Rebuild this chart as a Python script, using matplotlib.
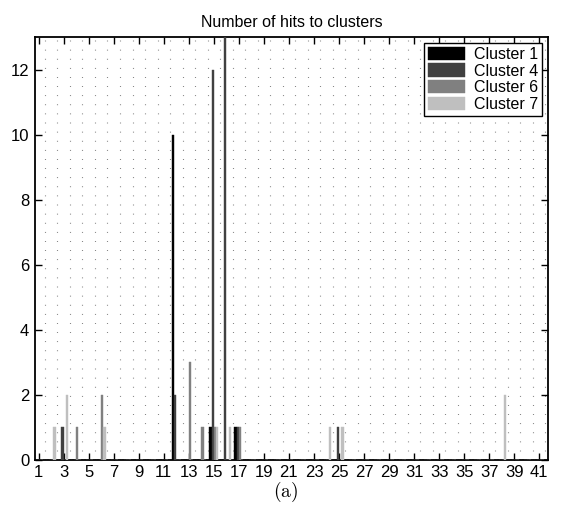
import numpy as np
import matplotlib.pyplot as plt

plt.rcParams['font.family'] = ['Liberation Sans', 'DejaVu Sans']
plt.rcParams['mathtext.fontset'] = 'cm'

# hits per position, one list per cluster (positions 1..41)
positions = list(range(1, 42))
cluster_names = ['Cluster 1', 'Cluster 4', 'Cluster 6', 'Cluster 7']
cluster1 = [0, 0, 0, 0, 0, 0, 0, 0, 0, 0, 0, 10, 0, 0, 1, 0, 1, 0, 0, 0,
            0, 0, 0, 0, 0, 0, 0, 0, 0, 0, 0, 0, 0, 0, 0, 0, 0, 0, 0, 0, 0]
cluster4 = [0, 0, 1, 0, 0, 0, 0, 0, 0, 0, 0, 2, 0, 0, 12, 14, 1, 0, 0, 0,
            0, 0, 0, 0, 1, 0, 0, 0, 0, 0, 0, 0, 0, 0, 0, 0, 0, 0, 0, 0, 0]
cluster6 = [0, 0, 0, 1, 0, 2, 0, 0, 0, 0, 0, 0, 3, 1, 1, 0, 1, 0, 0, 0,
            0, 0, 0, 0, 0, 0, 0, 0, 0, 0, 0, 0, 0, 0, 0, 0, 0, 0, 0, 0, 0]
cluster7 = [0, 1, 2, 0, 0, 1, 0, 0, 0, 0, 0, 0, 0, 0, 1, 1, 0, 0, 0, 0,
            0, 0, 0, 1, 1, 0, 0, 0, 0, 0, 0, 0, 0, 0, 0, 0, 0, 2, 0, 0, 0]
xtick_labels = [str(k) for k in range(1, 42, 2)]

greys = ['#000000', '#404040', '#808080', '#bfbfbf']

fig = plt.figure(figsize=(5.72, 5.22), dpi=100)
ax = fig.add_axes([0.061, 0.119, 0.897, 0.81])

x = np.array(positions)
w = 0.182
offsets = [-1.5 * w, -0.5 * w, 0.5 * w, 1.5 * w]
series = [cluster1, cluster4, cluster6, cluster7]
for vals, off, col, name in zip(series, offsets, greys, cluster_names):
    ax.bar(x + off, vals, width=w, color=col, edgecolor=col, linewidth=0.3,
           label=name, zorder=3)

# dotted vertical grid between the groups
for gx in np.arange(1.5, 41.6, 1.0):
    ax.axvline(gx, color='#666666', linestyle=(0, (0.7, 7.5)), linewidth=0.8,
               zorder=1)

ax.set_xlim(0.7, 41.7)
ax.set_ylim(0, 13)
ax.set_xticks(range(1, 42, 2))
ax.set_xticklabels(xtick_labels)
ax.set_yticks(range(0, 13, 2))
ax.tick_params(direction='in', length=5, width=1.0, labelsize=12,
               top=True, right=True, pad=4)
for s in ax.spines.values():
    s.set_linewidth(1.3)

ax.set_title('Number of hits to clusters', fontsize=11.5, pad=7)

leg = ax.legend(loc='upper right', fontsize=11.5, frameon=True, fancybox=False,
                edgecolor='black', framealpha=1, borderpad=0.25,
                handlelength=2.3, handleheight=0.9, handletextpad=0.6,
                labelspacing=0.1, borderaxespad=0.35)
leg.get_frame().set_linewidth(1.0)

fig.text(0.5, 0.057, r'$\mathrm{(a)}$', ha='center', va='center', fontsize=14)

fig.savefig('out.png', dpi=100)
